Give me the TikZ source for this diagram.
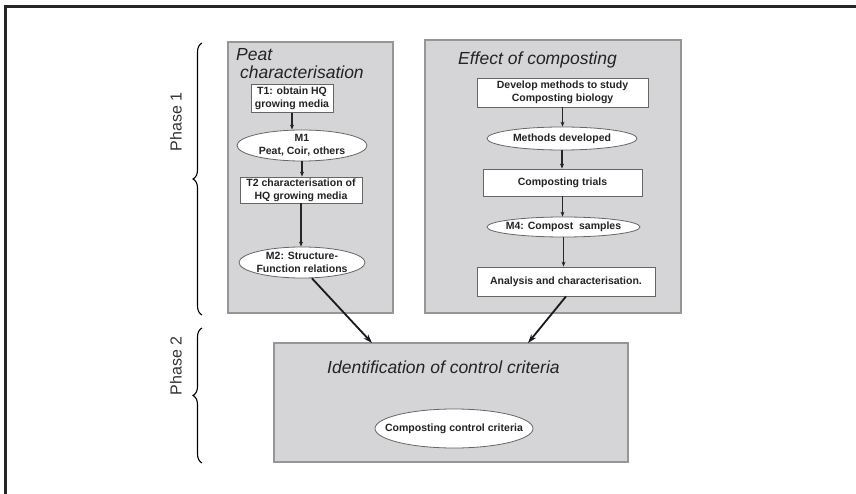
\documentclass[tikz,border=0pt]{standalone}
\usepackage{fontspec}
\setmainfont{Liberation Sans}
\usetikzlibrary{arrows.meta,shapes.geometric,decorations.pathreplacing,positioning}
\definecolor{panelgray}{RGB}{213,213,215}
\definecolor{panelline}{RGB}{150,150,152}
\definecolor{inkgray}{RGB}{35,35,35}

\begin{document}
\begin{tikzpicture}[x=1pt, y=-1pt,
    panel/.style={draw=panelline, line width=1.2pt, fill=panelgray, inner sep=0pt},
    paneltitle/.style={font=\fontsize{17.5}{18}\selectfont\itshape, text=inkgray, align=left, inner sep=0pt},
    taskbox/.style={draw=black!60, line width=0.8pt, fill=white, font=\fontsize{10.5}{13}\selectfont\bfseries, text=inkgray, align=center, inner sep=0pt},
    result/.style={ellipse, draw=black!60, line width=0.8pt, fill=white, font=\fontsize{10.5}{13}\selectfont\bfseries, text=inkgray, align=center, inner xsep=-6pt, inner ysep=-3pt},
    flow/.style={-{Stealth[length=5pt,width=4pt]}, line width=1.3pt, black!85},
    link/.style={-{Stealth[length=9pt,width=6pt]}, line width=1.8pt, black!90},
    phase/.style={decorate, decoration={brace, amplitude=9pt}, line width=1.1pt},
    phaselabel/.style={rotate=90, font=\fontsize{16}{18}\selectfont, text=black!80}
]
\useasboundingbox (0,0) rectangle (856,494);

% Frame (top and left edge only)
\draw[line width=2.6pt, black!85] (5.5,494) -- (5.5,6.5) -- (856,6.5);

% Panels
\node[panel, minimum width=165pt, minimum height=271pt] (peat) at (310.5,177.5) {};
\node[panel, minimum width=256pt, minimum height=273pt] (effect) at (553,176.5) {};
\node[panel, minimum width=354pt, minimum height=119pt] (ident) at (451,402.5) {};

\node[paneltitle, anchor=north west] (peattitle) at (236,48.5) {Peat\\\hspace{4pt}characterisation};
\node[paneltitle, anchor=west] (effecttitle) at (458,60) {Effect of composting};
\node[paneltitle, anchor=west] (identtitle) at (327,367) {Identification of control criteria};

% Peat characterisation column
\node[taskbox, minimum width=82pt, minimum height=28pt] (t1) at (292,98.5) {T1: obtain HQ\\growing media};
\node[result, minimum width=130pt, minimum height=31pt] (m1) at (302,145.5) {M1\\Peat, Coir, others};
\node[taskbox, minimum width=122pt, minimum height=26pt] (t2) at (301,190) {T2 characterisation of\\HQ growing media};
\node[result, minimum width=126pt, minimum height=31pt] (m2) at (302,262.5) {M2: Structure-\\Function relations};

\draw[flow] (t1.south) -- (t1.south |- m1.north);
\draw[flow] (m1.south) -- (m1.south |- t2.north);
\draw[flow] (t2.south) -- (t2.south |- m2.north);

% Effect of composting column
\node[taskbox, minimum width=171pt, minimum height=29pt] (dev) at (562.5,92.5) {Develop methods to study\\Composting biology};
\node[result, minimum width=150pt, minimum height=23pt] (mdev) at (562,138.5) {Methods developed};
\node[taskbox, minimum width=159pt, minimum height=27pt] (trials) at (562.5,182.5) {Composting trials};
\node[result, minimum width=153pt, minimum height=20pt] (m4) at (563.5,227) {M4: Compost\ \ samples};
\node[taskbox, minimum width=178pt, minimum height=29pt] (analysis) at (566,281.5) {Analysis and characterisation.};

\draw[flow] (dev.south) -- (dev.south |- mdev.north);
\draw[flow] (mdev.south) -- (mdev.south |- trials.north);
\draw[flow] (trials.south) -- (trials.south |- m4.north);
\draw[flow] (m4.south) -- (m4.south |- analysis.north);

% Control criteria
\node[result, inner xsep=-13pt, minimum width=158pt, minimum height=39pt] (ccc) at (454,428.5) {Composting control criteria};

% Links into phase 2
\coordinate (in1) at (372,343);
\coordinate (in2) at (528,343);
\draw[link] (m2.-58) -- (in1);
\draw[link] (analysis.south) -- (in2);

% Phase braces
\draw[phase] (202,315) -- (202,43);
\draw[phase] (202,463) -- (202,328);
\node[phaselabel] (phase1) at (176,122) {Phase 1};
\node[phaselabel] (phase2) at (176,366) {Phase 2};

\end{tikzpicture}
\end{document}
